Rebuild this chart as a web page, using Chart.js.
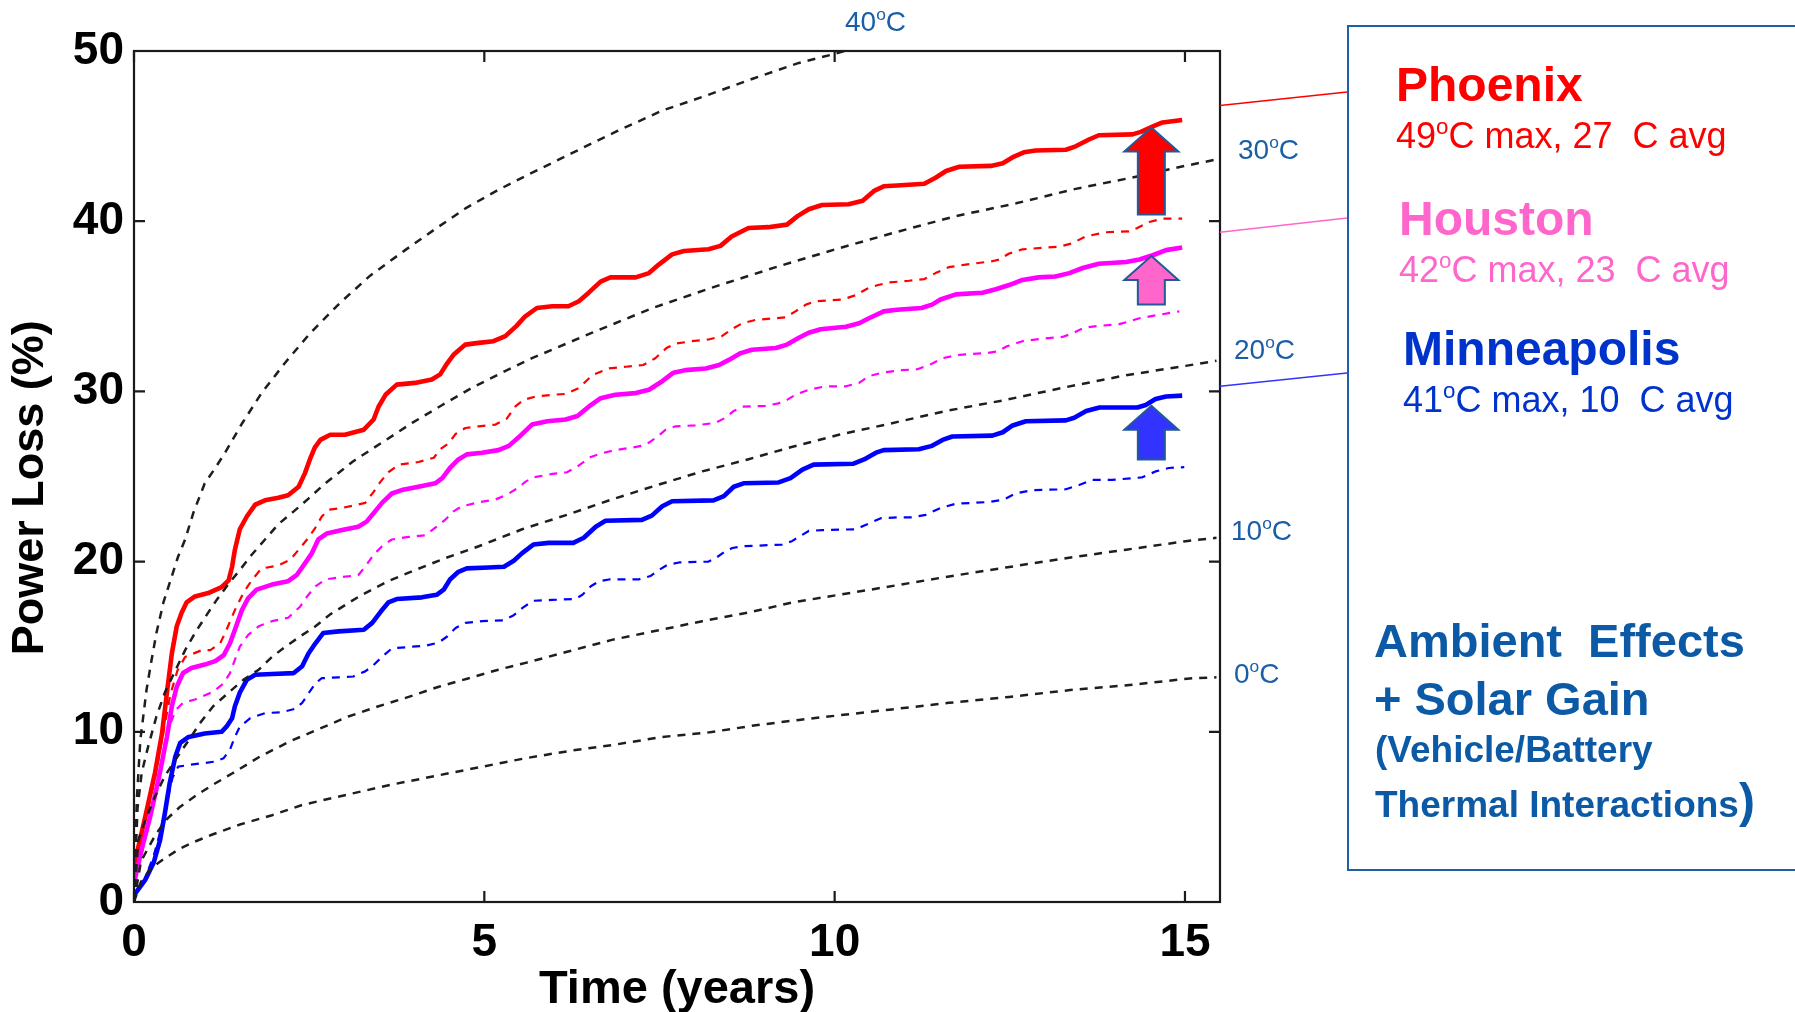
<!DOCTYPE html>
<html>
<head>
<meta charset="utf-8">
<script src="https://cdn.jsdelivr.net/npm/chart.js@4.4.1/dist/chart.umd.min.js"></script>
<style>
    html, body { margin: 0; padding: 0; background: #ffffff; overflow: hidden; }
    #wrap { position: relative; width: 1795px; height: 1012px; }
    #chart { position: absolute; left: 0; top: 0; }
    .temp { position: absolute; font: 28px 'Liberation Sans', Arial, sans-serif; line-height: 1; color: #1a5ea6; white-space: pre; }
    .temp sup, .sub sup { font-size: 62%; line-height: 0; vertical-align: 0.62em; }
    #panel { position: absolute; left: 1347px; top: 25px; width: 470px; height: 846px; box-sizing: border-box; border: 2px solid #1f5fa8; border-right: none; }
    .txt { position: absolute; font-family: 'Liberation Sans', Arial, sans-serif; line-height: 1; white-space: pre; }
    .city { font-size: 48px; font-weight: bold; }
    .sub { font-size: 36px; }
    .note { font-size: 47px; font-weight: bold; color: #0c5aa6; }
    .note.small { font-size: 37px; }
</style>
</head>
<body>
<div id="wrap">
    <canvas id="chart" width="1795" height="1012"></canvas>

    <div class="temp" style="left:845px; top:8px;">40<sup>o</sup>C</div>
    <div class="temp" style="left:1238px; top:136px;">30<sup>o</sup>C</div>
    <div class="temp" style="left:1234px; top:336px;">20<sup>o</sup>C</div>
    <div class="temp" style="left:1231px; top:517px;">10<sup>o</sup>C</div>
    <div class="temp" style="left:1234px; top:660px;">0<sup>o</sup>C</div>

    <div id="panel"></div>
    <div class="txt city" style="left:1396px; top:61px; color:#ff0000;">Phoenix</div>
    <div class="txt sub" style="left:1396px; top:118px; color:#ff0000;">49<sup>o</sup>C max, 27  C avg</div>
    <div class="txt city" style="left:1399px; top:195px; color:#ff66cc;">Houston</div>
    <div class="txt sub" style="left:1399px; top:252px; color:#ff66cc;">42<sup>o</sup>C max, 23  C avg</div>
    <div class="txt city" style="left:1403px; top:325px; color:#0033cc;">Minneapolis</div>
    <div class="txt sub" style="left:1403px; top:382px; color:#0033cc;">41<sup>o</sup>C max, 10  C avg</div>

    <div class="txt note" style="left:1374px; top:617px;">Ambient  Effects</div>
    <div class="txt note" style="left:1374px; top:675px;">+ Solar Gain</div>
    <div class="txt note small" style="left:1375px; top:731px;">(Vehicle/Battery</div>
    <div class="txt note small" style="left:1375px; top:786px;">Thermal Interactions<span style="font-size:48px; line-height:0;">)</span></div>
</div>

<script>
// time (years), power loss (%) pairs
const temp0C = [[0,0],[0.1,1.2],[0.25,2.0],[0.44,2.57],[0.66,3.15],[0.87,3.55],[1.11,3.95],[1.51,4.55],[1.97,5.1],[2.40,5.7],[2.82,6.1],[3.25,6.5],[3.68,6.9],[4.11,7.25],[4.54,7.6],[4.97,7.95],[5.59,8.45],[6.25,8.9],[6.87,9.25],[7.54,9.7],[8.18,9.95],[8.82,10.35],[9.49,10.7],[10.13,11.0],[10.78,11.3],[11.63,11.7],[12.49,12.05],[13.36,12.45],[14.21,12.75],[15.11,13.15],[15.45,13.2]];
const temp10C = [[0,0],[0.1,2.4],[0.3,3.9],[0.45,4.8],[0.66,5.6],[0.90,6.3],[1.13,6.9],[1.40,7.55],[1.80,8.55],[2.23,9.45],[2.66,10.2],[3.06,10.9],[3.49,11.5],[3.92,12.05],[4.35,12.65],[4.78,13.15],[5.20,13.65],[5.59,14.05],[6.18,14.7],[6.82,15.4],[7.47,15.95],[8.11,16.5],[8.76,17.0],[9.40,17.6],[10.06,18.05],[10.73,18.5],[11.59,19.1],[12.44,19.65],[13.30,20.2],[14.16,20.7],[15.01,21.2],[15.45,21.4]];
const temp20C = [[0,0],[0.06,3.6],[0.16,4.8],[0.30,6.2],[0.44,7.4],[0.59,8.35],[0.78,9.5],[0.94,10.5],[1.13,11.5],[1.35,12.3],[1.56,13.05],[1.78,13.65],[1.97,14.4],[2.16,15.0],[2.37,15.6],[2.59,16.2],[2.80,16.9],[3.23,18.0],[3.63,18.85],[4.01,19.5],[4.44,20.2],[4.92,20.9],[5.54,21.9],[6.18,22.75],[6.82,23.65],[7.47,24.5],[8.11,25.3],[8.76,26.0],[9.40,26.75],[10.06,27.45],[10.73,28.05],[11.59,28.85],[12.44,29.5],[13.30,30.25],[14.16,30.95],[15.01,31.5],[15.45,31.8]];
const temp30C = [[0,0],[0.05,5.5],[0.11,7.6],[0.20,9.1],[0.32,10.9],[0.44,12.3],[0.59,13.6],[0.73,14.8],[0.87,15.8],[1.01,16.7],[1.18,17.75],[1.35,18.7],[1.51,19.5],[1.68,20.4],[1.87,21.3],[2.06,22.2],[2.28,22.95],[2.49,23.7],[2.73,24.6],[3.13,25.9],[3.56,27.05],[3.97,28.15],[4.40,29.2],[4.82,30.2],[5.25,31.1],[5.68,31.95],[6.54,33.45],[7.40,34.9],[8.25,36.1],[9.16,37.3],[10.01,38.35],[10.87,39.35],[11.73,40.3],[12.59,41.05],[13.44,41.9],[14.35,42.65],[14.94,43.2],[15.42,43.6]];
const temp40C = [[0,0],[0.04,6.0],[0.09,9.5],[0.18,12.5],[0.25,14.2],[0.32,15.8],[0.42,17.6],[0.49,18.5],[0.63,20.3],[0.73,21.3],[0.85,22.9],[1.01,24.6],[1.16,25.5],[1.30,26.4],[1.54,28.1],[1.82,29.9],[2.16,31.7],[2.51,33.4],[2.94,35.2],[3.37,36.8],[3.87,38.3],[4.32,39.6],[4.75,40.8],[5.18,41.8],[5.61,42.7],[6.25,44.0],[6.90,45.3],[7.54,46.5],[8.18,47.4],[8.85,48.4],[9.49,49.3],[9.97,49.8],[10.3,50.2]];

const phoenixNoSolar = [[0,2.1],[0.15,4.6],[0.30,7.3],[0.42,10.0],[0.52,12.2],[0.62,13.6],[0.73,14.4],[0.97,14.8],[1.09,14.8],[1.23,15.2],[1.30,15.8],[1.44,17.15],[1.56,18.15],[1.68,18.9],[1.82,19.6],[2.04,19.75],[2.23,20.1],[2.35,20.7],[2.47,21.3],[2.59,22.0],[2.68,22.65],[2.78,23.05],[2.97,23.15],[3.30,23.45],[3.42,24.1],[3.52,24.7],[3.63,25.25],[3.78,25.7],[4.06,25.85],[4.28,26.1],[4.37,26.6],[4.49,26.95],[4.59,27.5],[4.73,27.85],[4.92,27.95],[5.16,28.05],[5.32,28.4],[5.44,29.1],[5.56,29.5],[5.73,29.7],[5.97,29.8],[6.16,29.85],[6.35,30.2],[6.54,30.95],[6.78,31.35],[7.02,31.45],[7.27,31.55],[7.44,31.95],[7.60,32.55],[7.72,32.8],[7.96,32.95],[8.20,33.05],[8.39,33.25],[8.53,33.65],[8.68,34.0],[8.87,34.2],[9.30,34.35],[9.44,34.7],[9.59,35.1],[9.73,35.3],[10.11,35.4],[10.30,35.65],[10.47,36.05],[10.62,36.25],[10.78,36.4],[11.06,36.5],[11.28,36.6],[11.44,36.95],[11.63,37.3],[11.87,37.45],[12.25,37.65],[12.35,37.75],[12.49,38.1],[12.68,38.35],[13.20,38.5],[13.39,38.7],[13.58,39.1],[13.87,39.35],[14.20,39.4],[14.32,39.6],[14.49,39.95],[14.68,40.15],[14.96,40.15]];
const houstonNoSolar = [[0,1.1],[0.15,3.5],[0.30,6.5],[0.42,8.8],[0.52,10.5],[0.60,11.3],[0.70,11.7],[0.87,11.9],[1.13,12.35],[1.28,12.85],[1.37,13.45],[1.51,15.0],[1.63,15.7],[1.78,16.2],[1.97,16.5],[2.20,16.7],[2.37,17.35],[2.47,17.95],[2.59,18.55],[2.73,18.95],[2.97,19.1],[3.20,19.2],[3.30,19.7],[3.42,20.4],[3.54,20.9],[3.68,21.3],[3.92,21.45],[4.16,21.55],[4.32,22.05],[4.44,22.45],[4.56,22.95],[4.68,23.25],[4.94,23.5],[5.16,23.65],[5.33,23.95],[5.47,24.3],[5.59,24.7],[5.70,24.95],[5.97,25.15],[6.18,25.25],[6.35,25.65],[6.52,26.15],[6.66,26.35],[6.87,26.55],[7.11,26.7],[7.30,26.85],[7.44,27.25],[7.59,27.75],[7.73,27.95],[8.01,28.0],[8.30,28.15],[8.44,28.45],[8.56,28.85],[8.68,29.1],[9.01,29.15],[9.20,29.3],[9.32,29.5],[9.44,29.8],[9.63,30.1],[9.87,30.3],[10.16,30.3],[10.35,30.5],[10.49,30.9],[10.68,31.1],[10.96,31.25],[11.18,31.3],[11.35,31.55],[11.54,31.95],[11.78,32.15],[12.16,32.25],[12.32,32.35],[12.46,32.65],[12.68,32.95],[12.97,33.1],[13.25,33.2],[13.39,33.4],[13.56,33.75],[13.77,33.85],[14.06,33.95],[14.20,34.1],[14.35,34.3],[14.63,34.5],[14.92,34.7]];
const minneapolisNoSolar = [[0,0.4],[0.15,1.3],[0.28,2.7],[0.38,4.2],[0.47,5.9],[0.55,7.3],[0.63,7.95],[0.78,8.05],[0.97,8.15],[1.16,8.25],[1.28,8.45],[1.37,8.95],[1.44,9.7],[1.51,10.3],[1.66,10.8],[1.87,11.1],[2.11,11.15],[2.30,11.35],[2.40,11.7],[2.49,12.25],[2.59,12.85],[2.68,13.15],[2.92,13.2],[3.13,13.25],[3.30,13.55],[3.40,13.85],[3.54,14.4],[3.68,14.9],[3.97,15.0],[4.16,15.05],[4.35,15.25],[4.47,15.6],[4.59,16.1],[4.73,16.4],[4.97,16.5],[5.28,16.55],[5.42,16.85],[5.55,17.3],[5.70,17.7],[5.97,17.75],[6.30,17.8],[6.40,18.05],[6.52,18.55],[6.64,18.85],[6.78,18.95],[7.20,18.95],[7.37,19.15],[7.49,19.5],[7.61,19.8],[7.78,19.95],[8.20,20.0],[8.30,20.2],[8.42,20.55],[8.54,20.8],[8.68,20.9],[9.25,21.0],[9.39,21.2],[9.51,21.5],[9.63,21.8],[9.82,21.85],[10.30,21.9],[10.44,22.15],[10.66,22.55],[10.89,22.6],[11.11,22.6],[11.30,22.75],[11.51,23.15],[11.73,23.4],[12.20,23.5],[12.42,23.65],[12.58,24.0],[12.82,24.2],[13.30,24.25],[13.49,24.5],[13.68,24.8],[13.96,24.8],[14.39,24.95],[14.58,25.3],[14.77,25.5],[14.99,25.55]];

const phoenixSolar = [[0,2.1],[0.16,5.0],[0.30,7.6],[0.40,9.9],[0.47,12.3],[0.54,14.6],[0.61,16.2],[0.68,17.0],[0.75,17.6],[0.87,17.95],[1.06,18.15],[1.25,18.5],[1.35,18.9],[1.40,19.7],[1.44,20.7],[1.51,21.9],[1.61,22.65],[1.73,23.35],[1.87,23.6],[2.06,23.75],[2.20,23.9],[2.35,24.4],[2.44,25.2],[2.51,26.0],[2.58,26.7],[2.66,27.15],[2.80,27.45],[3.01,27.45],[3.28,27.75],[3.42,28.35],[3.49,29.1],[3.59,29.8],[3.75,30.4],[4.01,30.5],[4.25,30.7],[4.37,31.0],[4.47,31.65],[4.56,32.15],[4.73,32.75],[4.92,32.85],[5.13,32.95],[5.30,33.25],[5.46,33.85],[5.58,34.4],[5.75,34.9],[5.97,35.0],[6.20,35.0],[6.35,35.3],[6.49,35.8],[6.66,36.45],[6.80,36.7],[7.16,36.7],[7.35,36.95],[7.49,37.45],[7.68,38.05],[7.85,38.25],[8.20,38.35],[8.37,38.55],[8.53,39.1],[8.77,39.6],[9.05,39.65],[9.32,39.8],[9.47,40.3],[9.63,40.7],[9.82,40.95],[10.20,41.0],[10.40,41.2],[10.57,41.8],[10.70,42.05],[10.89,42.1],[11.28,42.2],[11.44,42.55],[11.59,42.95],[11.78,43.2],[12.23,43.25],[12.40,43.4],[12.56,43.8],[12.70,44.05],[12.87,44.15],[13.30,44.2],[13.44,44.4],[13.63,44.8],[13.77,45.05],[14.25,45.1],[14.37,45.25],[14.56,45.6],[14.68,45.8],[14.96,45.95]];
const houstonSolar = [[0,1.1],[0.11,3.1],[0.23,5.0],[0.35,7.2],[0.47,9.7],[0.54,11.5],[0.61,12.65],[0.70,13.45],[0.82,13.75],[1.01,13.95],[1.16,14.15],[1.28,14.5],[1.37,15.2],[1.44,16.0],[1.54,17.15],[1.63,17.85],[1.75,18.35],[1.97,18.65],[2.20,18.85],[2.32,19.2],[2.44,19.9],[2.54,20.5],[2.63,21.3],[2.75,21.65],[2.97,21.85],[3.20,22.05],[3.32,22.35],[3.42,22.85],[3.54,23.45],[3.68,24.0],[3.82,24.2],[4.06,24.4],[4.30,24.6],[4.40,24.9],[4.51,25.5],[4.63,26.0],[4.75,26.3],[4.97,26.4],[5.20,26.55],[5.35,26.8],[5.49,27.3],[5.68,28.05],[5.90,28.25],[6.16,28.35],[6.33,28.55],[6.49,29.1],[6.66,29.6],[6.87,29.8],[7.16,29.9],[7.35,30.1],[7.54,30.6],[7.70,31.1],[7.87,31.25],[8.16,31.35],[8.35,31.55],[8.49,31.85],[8.66,32.25],[8.82,32.45],[9.16,32.55],[9.32,32.75],[9.49,33.15],[9.63,33.45],[9.80,33.65],[10.16,33.8],[10.35,34.0],[10.49,34.3],[10.70,34.7],[10.89,34.8],[11.24,34.9],[11.39,35.1],[11.51,35.4],[11.73,35.7],[12.11,35.8],[12.30,36.0],[12.49,36.25],[12.68,36.55],[12.91,36.7],[13.15,36.75],[13.35,36.95],[13.54,37.25],[13.77,37.5],[14.16,37.6],[14.35,37.75],[14.54,38.0],[14.73,38.3],[14.96,38.45]];
const minneapolisSolar = [[0,0.4],[0.16,1.3],[0.28,2.3],[0.37,3.6],[0.44,5.2],[0.51,7.0],[0.59,8.55],[0.66,9.35],[0.78,9.7],[1.01,9.9],[1.25,10.0],[1.32,10.3],[1.40,10.8],[1.44,11.5],[1.51,12.3],[1.61,13.05],[1.73,13.35],[1.97,13.4],[2.28,13.45],[2.40,13.85],[2.49,14.6],[2.59,15.2],[2.70,15.8],[2.92,15.9],[3.28,16.0],[3.40,16.4],[3.52,17.05],[3.63,17.6],[3.75,17.8],[4.11,17.9],[4.32,18.05],[4.42,18.35],[4.51,18.95],[4.63,19.4],[4.75,19.6],[5.06,19.65],[5.28,19.7],[5.42,20.05],[5.54,20.5],[5.70,21.0],[5.92,21.1],[6.27,21.1],[6.42,21.4],[6.59,22.05],[6.73,22.4],[7.25,22.45],[7.39,22.7],[7.54,23.25],[7.68,23.55],[8.27,23.6],[8.42,23.85],[8.56,24.4],[8.70,24.6],[9.20,24.65],[9.37,24.9],[9.54,25.4],[9.70,25.7],[10.27,25.75],[10.42,26.0],[10.59,26.4],[10.70,26.55],[11.20,26.6],[11.39,26.8],[11.54,27.15],[11.68,27.35],[12.25,27.4],[12.40,27.6],[12.54,28.0],[12.73,28.25],[13.30,28.3],[13.42,28.45],[13.59,28.85],[13.78,29.05],[14.32,29.05],[14.44,29.2],[14.58,29.55],[14.73,29.7],[14.96,29.75]];

// solar-gain arrows: year, loss without solar, loss with solar
const arrowYear = 14.52;
const arrowFrom = [40.4, 35.1, 26.0];
const arrowTo = [45.5, 37.95, 29.15];
const arrowFill = ['#ff0000', '#ff66cc', '#3333ff'];

// leader lines to the city labels: loss at the plot edge, label y in the panel
const leaderLoss = [46.8, 39.35, 30.3];
const leaderPanelY = [92, 218, 373];
const leaderColor = ['#ff0000', '#ff66cc', '#3333ff'];
const panelLeft = 1347;

const xTicks = [0, 5, 10, 15];
const yTicks = [0, 10, 20, 30, 40, 50];

const pts = (rows) => rows.map(([x, y]) => ({ x, y }));

const black = (rows) => ({
    data: pts(rows),
    borderColor: '#1e1e1e',
    borderWidth: 2.5,
    borderDash: [8, 7]
});
const dashed = (rows, color) => ({
    data: pts(rows),
    borderColor: color,
    borderWidth: 2.2,
    borderDash: [8, 7]
});
const solid = (rows, color) => ({
    data: pts(rows),
    borderColor: color,
    borderWidth: 4.6
});

const frame = {
    id: 'frame',
    afterDatasetsDraw(chart) {
        const { ctx, chartArea: a, scales: { x, y } } = chart;
        ctx.save();

        // box and inward ticks
        ctx.strokeStyle = '#1a1a1a';
        ctx.lineWidth = 2.2;
        ctx.strokeRect(a.left, a.top, a.right - a.left, a.bottom - a.top);
        ctx.beginPath();
        xTicks.forEach((v) => {
            const px = x.getPixelForValue(v);
            ctx.moveTo(px, a.bottom); ctx.lineTo(px, a.bottom - 11);
            ctx.moveTo(px, a.top); ctx.lineTo(px, a.top + 11);
        });
        yTicks.forEach((v) => {
            const py = y.getPixelForValue(v);
            ctx.moveTo(a.left, py); ctx.lineTo(a.left + 11, py);
            ctx.moveTo(a.right, py); ctx.lineTo(a.right - 11, py);
        });
        ctx.stroke();

        // arrows
        const ax = x.getPixelForValue(arrowYear);
        arrowFrom.forEach((from, i) => {
            const tip = y.getPixelForValue(arrowTo[i]);
            const base = y.getPixelForValue(from);
            const head = tip + 24;
            ctx.beginPath();
            ctx.moveTo(ax, tip);
            ctx.lineTo(ax + 27, head);
            ctx.lineTo(ax + 13.5, head);
            ctx.lineTo(ax + 13.5, base);
            ctx.lineTo(ax - 13.5, base);
            ctx.lineTo(ax - 13.5, head);
            ctx.lineTo(ax - 27, head);
            ctx.closePath();
            ctx.fillStyle = arrowFill[i];
            ctx.fill();
            ctx.strokeStyle = '#215a96';
            ctx.lineWidth = 2;
            ctx.lineJoin = 'miter';
            ctx.stroke();
        });

        // leader lines
        ctx.lineWidth = 1.6;
        leaderLoss.forEach((v, i) => {
            ctx.beginPath();
            ctx.moveTo(a.right, y.getPixelForValue(v));
            ctx.lineTo(panelLeft, leaderPanelY[i]);
            ctx.strokeStyle = leaderColor[i];
            ctx.stroke();
        });
        ctx.restore();
    }
};

const tickFont = { family: "'Liberation Sans', Arial, sans-serif", size: 46, weight: 'bold' };

new Chart(document.getElementById('chart'), {
    type: 'line',
    data: {
        datasets: [
            black(temp0C), black(temp10C), black(temp20C), black(temp30C), black(temp40C),
            dashed(minneapolisNoSolar, '#0000ff'),
            dashed(houstonNoSolar, '#ff00ff'),
            dashed(phoenixNoSolar, '#ff0000'),
            solid(minneapolisSolar, '#0000ff'),
            solid(houstonSolar, '#ff00ff'),
            solid(phoenixSolar, '#ff0000')
        ]
    },
    options: {
        responsive: false,
        animation: false,
        devicePixelRatio: 1,
        layout: { padding: { left: 0, right: 575, top: 51, bottom: 0 } },
        elements: {
            point: { radius: 0 },
            line: { tension: 0, borderJoinStyle: 'round', fill: false }
        },
        datasets: { line: { clip: 0 } },
        plugins: { legend: { display: false }, tooltip: { enabled: false } },
        scales: {
            x: {
                type: 'linear',
                min: 0,
                max: 15.5,
                afterFit(scale) { scale.height = 110; },
                afterBuildTicks(scale) { scale.ticks = xTicks.map((value) => ({ value })); },
                grid: { display: false, drawTicks: false },
                border: { display: false },
                ticks: { color: '#000', font: tickFont, padding: 14, maxRotation: 0 },
                title: {
                    display: true,
                    text: 'Time (years)',
                    color: '#000',
                    font: { family: "'Liberation Sans', Arial, sans-serif", size: 47, weight: 'bold', lineHeight: 0.9 },
                    padding: { top: 0, bottom: 1 }
                }
            },
            y: {
                min: 0,
                max: 50,
                afterFit(scale) { scale.width = 134; },
                afterBuildTicks(scale) { scale.ticks = yTicks.map((value) => ({ value })); },
                grid: { display: false, drawTicks: false },
                border: { display: false },
                ticks: { color: '#000', font: tickFont, padding: 10 },
                title: {
                    display: true,
                    // en space at the end nudges the centred title down to where the original sits
                    text: 'Power Loss (%)\u2002',
                    color: '#000',
                    font: { family: "'Liberation Sans', Arial, sans-serif", size: 45, weight: 'bold', lineHeight: 1.2 },
                    padding: { top: 4, bottom: 0 }
                }
            }
        }
    },
    plugins: [frame]
});
</script>
</body>
</html>
